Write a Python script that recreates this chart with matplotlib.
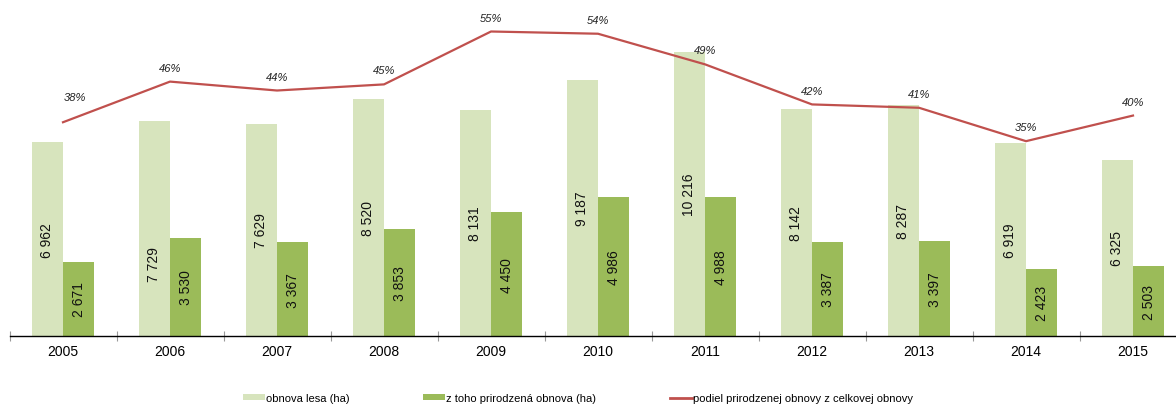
import matplotlib
matplotlib.use("Agg")
import matplotlib.pyplot as plt
import numpy as np
from matplotlib.patches import Patch
from matplotlib.lines import Line2D

plt.rcParams['font.family'] = ['Liberation Sans', 'DejaVu Sans']

years = ['2005', '2006', '2007', '2008', '2009', '2010', '2011', '2012', '2013', '2014', '2015']
obnova_lesa = [6962, 7729, 7629, 8520, 8131, 9187, 10216, 8142, 8287, 6919, 6325]
prirodzena = [2671, 3530, 3367, 3853, 4450, 4986, 4988, 3387, 3397, 2423, 2503]
podiel = [38.4, 45.7, 44.1, 45.2, 54.7, 54.3, 48.8, 41.6, 41.0, 35.0, 39.6]
podiel_labels = ['38%', '46%', '44%', '45%', '55%', '54%', '49%', '42%', '41%', '35%', '40%']

def fmt(v):
    return f"{v:,}".replace(",", " ")

W, H = 1176, 406
fig = plt.figure(figsize=(W / 100, H / 100), dpi=100)
left = 9.5 / W
bottom = (H - 337) / H
ax = fig.add_axes([left, bottom, 1177 / W, 334 / H])
ax2 = ax.twinx()

light = '#D7E4BD'
dark = '#9BBB59'
red = '#C0504D'

x = np.arange(len(years))
bw = 0.29
ax.bar(x - bw / 2, obnova_lesa, bw, color=light, zorder=2)
ax.bar(x + bw / 2, prirodzena, bw, color=dark, zorder=2)
ax.set_ylim(0, 12000)
ax.set_xlim(-0.5, len(years) - 0.5)

shift = {1: -25}
for i, v in enumerate(obnova_lesa):
    ax.annotate(fmt(v), (x[i] - bw / 2, v / 2), xytext=(0, shift.get(i, 0)),
                textcoords='offset points', rotation=90, ha='center', va='center',
                fontsize=10, color='#111111', zorder=5)
for i, v in enumerate(prirodzena):
    ax.annotate(fmt(v), (x[i] + bw / 2, v / 2), rotation=90, ha='center', va='center',
                fontsize=10, color='#111111', zorder=5)

ax2.plot(x, np.array(podiel) / 100, color=red, lw=1.6, zorder=4)
ax2.set_ylim(0, 0.6)
for i, p in enumerate(podiel):
    off = (8.6, 18) if i == 0 else (0, 10)
    ax2.annotate(podiel_labels[i], (x[i], p / 100), xytext=off, textcoords='offset points',
                 ha='center', va='center', fontsize=8, style='italic', color='#222222')

for a in (ax, ax2):
    for s in ('top', 'right', 'left'):
        a.spines[s].set_visible(False)
    a.set_yticks([])
ax2.spines['bottom'].set_visible(False)
ax.spines['bottom'].set_color('#000000')
ax.spines['bottom'].set_linewidth(1.0)
ax.set_xticks(x)
ax.set_xticklabels(years, fontsize=10)
ax.tick_params(axis='x', which='major', length=0, pad=6)
ax.set_xticks(np.arange(-0.5, len(years), 1.0), minor=True)
ax.tick_params(axis='x', which='minor', length=7, direction='inout', color='#999999', width=0.8)

handles = [Patch(facecolor=light, edgecolor='none'),
           Patch(facecolor=dark, edgecolor='none'),
           Line2D([0], [0], color=red, lw=2)]
labels = ['obnova lesa (ha)', 'z toho prirodzená obnova (ha)',
          'podiel prirodzenej obnovy z celkovej obnovy']
fig.legend(handles, labels, loc='center', bbox_to_anchor=(578 / W, 1 - 399 / H), ncol=3,
           frameon=False, fontsize=8, handlelength=2.0, handleheight=0.45,
           handletextpad=0.1, columnspacing=6.6)

fig.savefig('out.png', dpi=100)
